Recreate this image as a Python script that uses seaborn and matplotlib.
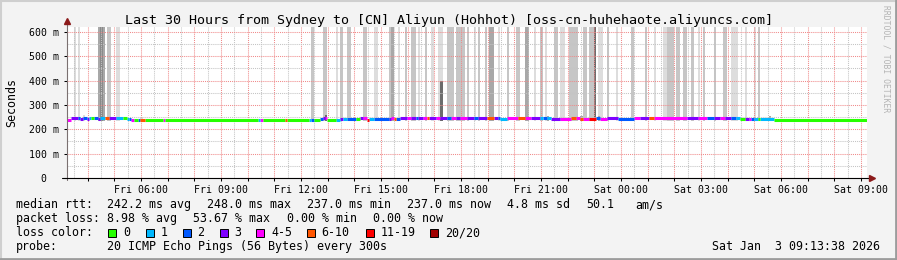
import numpy as np
import pandas as pd
import matplotlib
matplotlib.use("Agg")
import matplotlib.pyplot as plt
import seaborn as sns
from matplotlib.patches import Rectangle

# ---------------- data ----------------
TITLE = "Last 30 Hours from Sydney to [CN] Aliyun (Hohhot) [oss-cn-huhehaote.aliyuncs.com]"
START_HOUR = 3 + 13 / 60 + 38 / 3600      # Fri 03:13:38
SPAN_HOURS = 30
STEP_HOURS = 5 / 60                        # 5-minute steps

# median rtt, run-length encoded: number of steps, median (ms), loss class index
run_steps = [2, 3, 1, 1, 2, 1, 1, 1, 2, 1, 2, 2, 3, 3, 2, 1, 1, 1,
             2, 1, 2, 8, 1, 42, 1, 1, 10, 1, 10, 1, 1, 3, 1, 1, 1, 4, 2, 1, 2, 4, 2, 1, 2, 1, 2, 7, 1, 1, 1, 2,
             3, 2, 2, 1, 2, 2, 1, 3, 2, 3, 2, 2, 2, 3,
             3, 2, 4, 3, 2, 1, 3, 5, 3, 3, 4, 1, 2, 2, 4, 5, 1, 1, 2, 1, 3, 3, 2, 3, 4, 1, 7, 2, 1, 4, 2, 6,
             9, 5, 4, 3, 3, 2, 3, 2, 2, 2, 2, 1, 1, 2, 1, 6, 1, 41]
run_ms = [240, 247, 246, 241, 246, 244, 245, 245, 247, 244, 247, 245, 246, 246, 247, 243, 242, 240,
          237, 237, 237, 237, 237, 237, 237, 237, 237, 237, 237, 237, 237, 237, 243, 245, 248, 237, 240, 241, 241, 242, 243, 245, 245, 238, 242, 242, 244, 245, 242, 243,
          247, 247, 247, 247, 247, 247, 247, 247, 247, 247, 247, 247, 247, 247,
          247, 247, 247, 247, 247, 246, 242, 246, 247, 247, 247, 247, 247, 247, 243, 241, 246, 246, 246, 241, 242, 243, 247, 243, 247, 247, 243, 247, 247, 247, 247, 247,
          247, 247, 247, 247, 247, 247, 247, 247, 245, 244, 244, 244, 243, 243, 244, 242, 240, 237]
run_loss = [4, 3, 2, 3, 2, 3, 1, 0, 2, 3, 1, 5, 3, 1, 0, 1, 2, 4,
            0, 2, 5, 0, 4, 0, 1, 4, 0, 5, 0, 1, 2, 0, 2, 3, 4, 0, 1, 3, 1, 2, 0, 3, 4, 6, 1, 2, 3, 4, 5, 2,
            3, 4, 3, 2, 3, 4, 5, 3, 4, 3, 2, 4, 3, 4,
            3, 2, 3, 5, 3, 2, 1, 4, 5, 4, 3, 1, 2, 1, 3, 4, 5, 5, 4, 5, 4, 6, 2, 4, 3, 3, 2, 4, 4, 3, 5, 4,
            4, 3, 4, 2, 3, 4, 3, 2, 1, 0, 3, 4, 2, 1, 0, 1, 0, 0]

loss_labels = ["0", "1", "2", "3", "4-5", "6-10", "11-19", "20/20"]
loss_colors = ["#26ff00", "#00b8ff", "#0059ff", "#7e00ff", "#ff00ff", "#ff5500", "#ff0000", "#a10000"]

# smoke (rtt spread) per step: first step, number of steps, top (ms), shade
smoke_start = [3, 5, 7, 14, 15, 16, 18, 22, 33,
               110, 115, 116, 121, 123, 126, 133, 138, 145, 146, 149, 152, 155, 158, 161, 164, 167, 168,
               171, 175, 180, 183, 185, 188, 190, 194, 198, 202, 206, 210, 213, 215, 216, 219, 222, 226,
               231, 232, 235, 237, 239, 239, 243, 247, 254, 260, 264, 268, 270, 274, 277, 281, 284, 286,
               291, 295, 299, 305, 309, 311, 316]
smoke_len = [1, 1, 1, 1, 1, 1, 2, 2, 1,
             1, 2, 1, 1, 1, 2, 2, 2, 2, 1, 1, 1, 2, 1, 1, 1, 2, 1,
             3, 4, 1, 1, 1, 1, 2, 1, 1, 2, 2, 1, 1, 1, 1, 2, 2, 4,
             1, 2, 2, 1, 2, 1, 1, 1, 1, 1, 1, 2, 3, 2, 2, 1, 1, 1,
             1, 2, 3, 1, 1, 1, 1]
smoke_top = [700, 700, 257, 700, 700, 700, 700, 700, 252,
             700, 700, 258, 700, 700, 700, 700, 700, 700, 700, 700, 700, 700, 700, 700, 700, 700, 400,
             700, 700, 700, 700, 700, 700, 700, 700, 700, 700, 700, 700, 700, 700, 254, 700, 700, 700,
             255, 700, 700, 700, 700, 255, 700, 700, 700, 700, 700, 700, 700, 700, 700, 700, 700, 700,
             700, 700, 700, 700, 700, 700, 254]
smoke_shade = ["light", "light", "light", "dark", "darker", "dark", "mid", "light", "light",
               "mid", "mid", "darkest", "light", "mid", "mid", "mid", "light", "mid", "dark", "light", "mid", "mid", "light", "mid", "light", "light", "darkest",
               "mid", "mid", "mid", "light", "mid", "mid", "dark", "light", "mid", "mid", "dark", "light", "mid", "light", "dark", "mid", "light", "mid",
               "dark", "mid", "mid", "darkest", "light", "dark", "mid", "light", "mid", "mid", "light", "light", "mid", "mid", "mid", "mid", "light", "mid",
               "mid", "mid", "light", "light", "light", "mid", "dark"]
SMOKE_FLOOR = 234
shade_colors = {"light": "#dddddd", "mid": "#c6c6c6", "dark": "#a8a8a8",
                "darker": "#8a8a8a", "darkest": "#6c6c6c"}

stats_median = ["242.2 ms avg", "248.0 ms max", "237.0 ms min", "237.0 ms now", "4.8 ms sd", "50.1", "am/s"]
stats_loss = ["8.98 % avg", "53.67 % max", "0.00 % min", "0.00 % now"]
probe_text = "20 ICMP Echo Pings (56 Bytes) every 300s"
stamp_text = "Sat Jan  3 09:13:38 2026"

y_ticks = [0, 100, 200, 300, 400, 500, 600]
label_hours = list(range(6, 34, 3))

# ---------------- style ----------------
sns.set_theme(style="white")
MONO = ["DejaVu Sans Mono", "DejaVu Sans"]
plt.rcParams["font.family"] = MONO

W, H = 897, 260
fig = plt.figure(figsize=(W / 100, H / 100), dpi=100, facecolor="#f3f3f3")
ax = fig.add_axes([67 / W, (H - 178) / H, 800 / W, 151 / H])
ax.set_facecolor("white")

# ---------------- smoke bars ----------------
for s, n, top, shade in zip(smoke_start, smoke_len, smoke_top, smoke_shade):
    ax.bar(START_HOUR + s * STEP_HOURS, top - SMOKE_FLOOR, width=n * STEP_HOURS,
           bottom=SMOKE_FLOOR, align="edge", color=shade_colors[shade], linewidth=0, zorder=1)

# ---------------- median line coloured by loss ----------------
step_ms = np.repeat(run_ms, run_steps)
step_loss = np.repeat(run_loss, run_steps)
rows = []
seg = 0
for i, (v, lc) in enumerate(zip(step_ms, step_loss)):
    if i > 0 and lc != step_loss[i - 1]:
        seg += 1
    t0 = START_HOUR + i * STEP_HOURS
    rows.append((t0, v, loss_labels[lc], seg, 2 * i))
    rows.append((t0 + STEP_HOURS, v, loss_labels[lc], seg, 2 * i + 1))
df = pd.DataFrame(rows, columns=["t", "ms", "loss", "seg", "order"]).sort_values("order")
sns.lineplot(data=df, x="t", y="ms", hue="loss", units="seg", estimator=None, sort=False,
             palette=dict(zip(loss_labels, loss_colors)), linewidth=2.2, legend=False,
             solid_capstyle="butt", ax=ax, zorder=3)

# ---------------- axes ----------------
ax.set_xlim(START_HOUR, START_HOUR + SPAN_HOURS)
ax.set_ylim(0, 620)
hours = np.arange(4, 34)
ax.set_xticks(hours)
ax.set_xticklabels([("Fri " if h < 24 else "Sat ") + f"{h % 24:02d}:00" if h in label_hours else ""
                    for h in hours])
ax.set_xticks(np.arange(3.5, 33.5, 1.0), minor=True)
ax.set_yticks(y_ticks)
ax.set_yticklabels([f"{v} m" if v else "0  " for v in y_ticks])
ax.set_yticks(np.arange(50, 620, 100), minor=True)
ax.set_xlabel("")
ax.set_ylabel("")
ax.set_axisbelow(False)
ax.grid(which="major", color="#f08a8a", linestyle=(0, (1, 1)), linewidth=0.75)
ax.grid(which="minor", color="#c4c4c4", linestyle=(0, (1, 1)), linewidth=0.75)
ax.tick_params(axis="both", which="major", labelsize=7.1, colors="#000000", length=2.5,
               width=0.75, pad=2.5, direction="out")
ax.tick_params(axis="both", which="minor", length=0)
ax.tick_params(axis="x", which="major", bottom=True, pad=2.2)
ax.tick_params(axis="y", which="major", left=True, pad=3.0)
for lab in ax.get_xticklabels() + ax.get_yticklabels():
    lab.set_family(MONO)
for sp in ax.spines.values():
    sp.set_visible(False)
ax.plot([0, 0], [-0.015, 1.035], transform=ax.transAxes, color="#7a7070", lw=0.8, clip_on=False, zorder=5)
ax.plot([-0.006, 1.003], [0, 0], transform=ax.transAxes, color="#000000", lw=0.8, clip_on=False, zorder=5)
ax.plot([0], [1.043], transform=ax.transAxes, marker="^", ms=4.2, color="#8b1a1a", clip_on=False, zorder=6)
ax.plot([1.006], [0], transform=ax.transAxes, marker=">", ms=4.2, color="#8b1a1a", clip_on=False, zorder=6)

# ---------------- texts ----------------
def ftext(x, y, s, **kw):
    kw.setdefault("fontsize", 8.4)
    kw.setdefault("va", "baseline")
    kw.setdefault("ha", "left")
    fig.text(x / W, 1 - y / H, s, family=MONO, color=kw.pop("color", "#000000"), **kw)

ftext(448.5, 24, TITLE, fontsize=9.65, ha="center")
fig.text(12 / W, 1 - 102.5 / H, "Seconds", rotation=90, ha="center", va="center",
         fontsize=8.4, family=MONO, color="#000000")
fig.text(886 / W, 1 - 5 / H, "RRDTOOL / TOBI OETIKER", rotation=270, ha="center", va="top",
         fontsize=5.8, family=MONO, color="#b4b4b4")

ftext(16, 208, "median rtt:")
for x, s in zip([107, 207, 307, 407, 507, 586, 635], stats_median):
    ftext(x, 208, s)
ftext(16, 222, "packet loss:")
for x, s in zip([107, 193, 287, 373], stats_loss):
    ftext(x, 222, s)
ftext(16, 236, "loss color:")
box_x = [108, 145.5, 182.5, 219.5, 256, 306.5, 365.5, 430]
for x, lab, col in zip(box_x, loss_labels, loss_colors):
    fig.patches.append(Rectangle((x / W, (H - 237) / H), 8 / W, 8 / H, transform=fig.transFigure,
                                 facecolor=col, edgecolor="#000000", linewidth=0.7))
    ftext(x + 15, 236, lab)
ftext(16, 250, "probe:")
ftext(107, 250, probe_text)
ftext(880, 250, stamp_text, ha="right")

# 3D frame
fig.add_artist(plt.Line2D([0, 1], [1 - 1 / H, 1 - 1 / H], transform=fig.transFigure, color="#cfcfcf", lw=1.5))
fig.add_artist(plt.Line2D([1 / W, 1 / W], [0, 1], transform=fig.transFigure, color="#cfcfcf", lw=1.5))
fig.add_artist(plt.Line2D([0, 1], [1.2 / H, 1.2 / H], transform=fig.transFigure, color="#9c9c9c", lw=2))
fig.add_artist(plt.Line2D([1 - 1.2 / W, 1 - 1.2 / W], [0, 1], transform=fig.transFigure, color="#9c9c9c", lw=2))

fig.savefig("out.png", dpi=100, facecolor=fig.get_facecolor())
